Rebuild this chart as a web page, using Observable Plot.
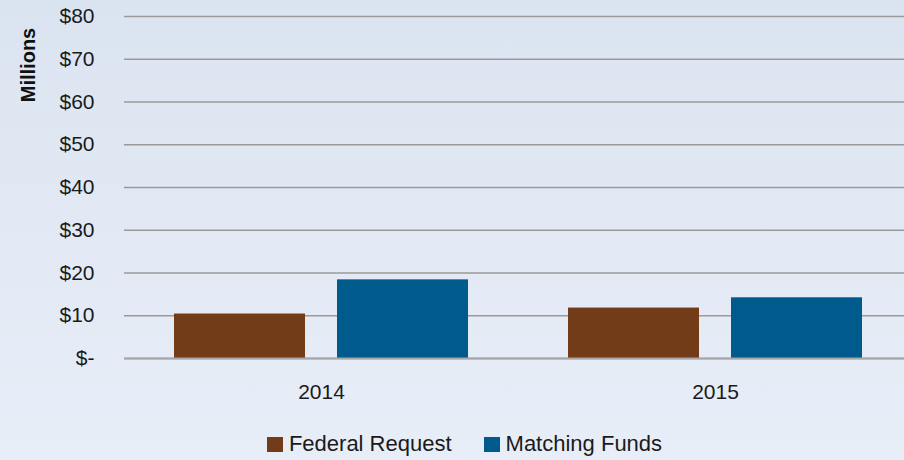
<!DOCTYPE html>
<html>
<head>
<meta charset="utf-8">
<script src="https://cdn.jsdelivr.net/npm/d3@7"></script>
<script src="https://cdn.jsdelivr.net/npm/@observablehq/plot@0.6"></script>
<style>
  html, body { margin: 0; padding: 0; }
  body {
    width: 904px; height: 460px; overflow: hidden;
    background: linear-gradient(to bottom, #dae4f0 0%, #e2e9f4 50%, #e8eef8 100%);
    font-family: "Liberation Sans", Arial, sans-serif;
    position: relative;
  }
  #ylabel {
    position: absolute; left: 28px; top: 65px;
    transform: translate(-50%, -50%) rotate(-90deg);
    font-weight: bold; font-size: 20px; color: #111; white-space: nowrap;
  }
  #legend {
    position: absolute; left: 0; top: 432px; width: 904px; height: 24px;
    display: flex; justify-content: center; align-items: center;
    padding-left: 25px; box-sizing: border-box;
    font-size: 22px; color: #1a1a1a;
  }
  .item { display: flex; align-items: center; margin: 0 16px; }
  .sw { width: 16px; height: 15px; margin-right: 6px; }
</style>
</head>
<body>
<div id="chart"></div>
<div id="ylabel">Millions</div>
<div id="legend"></div>
<script>
const years = ["2014", "2015"];
const series = ["Federal Request", "Matching Funds"];
const federalRequest = [10.4, 11.8];
const matchingFunds = [18.4, 14.2];
const yTicks = [0, 10, 20, 30, 40, 50, 60, 70, 80];
const colors = ["#713c17", "#005a8c"];

const rows = years.flatMap((yr, i) => [
  {year: yr, series: series[0], value: federalRequest[i]},
  {year: yr, series: series[1], value: matchingFunds[i]}
]);

const plot = Plot.plot({
  width: 912,
  height: 418,
  marginLeft: 124,
  marginRight: 0,
  marginTop: 16,
  marginBottom: 60,
  style: {background: "transparent", maxWidth: "none", fontFamily: "Liberation Sans, Arial, sans-serif", color: "#1a1a1a"},
  fx: {domain: years, padding: 0, label: null},
  x: {domain: series, paddingInner: 0.195, paddingOuter: 0.299, axis: null},
  y: {domain: [0, 80], label: null},
  color: {domain: series, range: colors},
  marks: [
    Plot.gridY(yTicks, {stroke: "#9a9a9a", strokeOpacity: 1, strokeWidth: 1.3}),
    Plot.barY(rows, {fx: "year", x: "series", y: "value", fill: "series"}),
    Plot.ruleY([0], {stroke: "#a6a6a6", strokeWidth: 2}),
    Plot.axisY({ticks: yTicks, tickSize: 0, tickPadding: 30, fontSize: 21, label: null,
      tickFormat: d => d === 0 ? "$-" : "$" + d}),
    Plot.axisFx({anchor: "bottom", tickSize: 0, tickPadding: 26, fontSize: 21, label: null})
  ]
});
document.getElementById("chart").appendChild(plot);

const legend = document.getElementById("legend");
series.forEach((s, i) => {
  const item = document.createElement("div");
  item.className = "item";
  const sw = document.createElement("div");
  sw.className = "sw";
  sw.style.background = colors[i];
  const t = document.createElement("span");
  t.textContent = s;
  item.appendChild(sw);
  item.appendChild(t);
  legend.appendChild(item);
});
</script>
</body>
</html>
